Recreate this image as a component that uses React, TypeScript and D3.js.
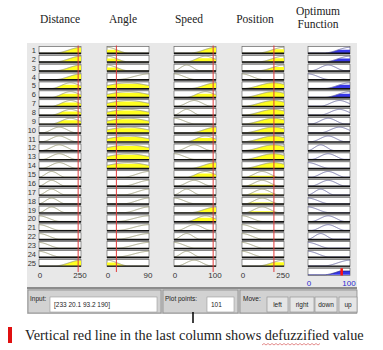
import React from 'react';
import * as d3 from 'd3';

// inputs of the fuzzy system
const inputNames = ['Distance', 'Angle', 'Speed', 'Position'];
const inputValues = [233, 20.1, 93.2, 190];
const inputMax = [250, 90, 100, 250];
const outputMax = 100;

// membership function used by each rule (25 rules)
const distanceMF = ['H', 'H', 'H', 'H', 'MH', 'MH', 'MH', 'MH', 'MH', 'M', 'M', 'M', 'M', 'M', 'ML', 'ML', 'ML', 'ML', 'ML', 'L', 'L', 'L', 'L', 'L', 'H'];
const angleMF = ['L', 'L', 'L', 'R', 'W', 'W', 'W', 'W', 'W', 'W', 'W', 'W', 'W', 'W', 'H', 'H', 'H', 'H', 'H', 'R', 'R', 'R', 'R', 'R', 'L'];
const speedMF = ['H', 'MH', 'ML', 'L', 'H', 'MH', 'M', 'ML', 'L', 'H', 'MH', 'M', 'L', 'H', 'MH', 'M', 'ML', 'L', 'H', 'MH', 'M', 'ML', 'L', 'ML', 'M'];
const positionMF = ['H', 'H', 'H', 'L', 'WH', 'WH', 'WH', 'WH', 'WH', 'WH', 'WH', 'WH', 'WH', 'WH', 'M', 'M', 'M', 'M', 'M', 'L', 'L', 'L', 'L', 'L', 'H'];
const optimumMF = ['H', 'H', 'M', 'L', 'H', 'H', 'MH', 'MH', 'M', 'MH', 'M', 'ML', 'M', 'L', 'M', 'M', 'ML', 'L', 'L', 'M', 'M', 'ML', 'L', 'L', 'H'];

// normalized shapes [a, b, c, d]
const shapes: Record<string, number[]> = {
  L: [-1, -1, 0, 0.5],
  ML: [0, 0.3, 0.3, 0.62],
  M: [0.08, 0.48, 0.48, 0.88],
  MH: [0.3, 0.75, 0.75, 1.2],
  H: [0.4, 1, 1, 2],
  R: [0.25, 1, 1, 2],
  W: [-0.5, 0.5, 0.5, 1.5],
  WH: [0.05, 0.75, 0.75, 1.45],
};

const ss = (t: number) => {
  const u = Math.max(0, Math.min(1, t));
  return u * u * (3 - 2 * u);
};
const mf = (s: string, x: number) => {
  const [a, b, c, d] = shapes[s];
  if (x < b) return ss((x - a) / (b - a));
  if (x <= c) return 1;
  return 1 - ss((x - c) / (d - c));
};

const xs = d3.range(101).map(i => i / 100);

const colX = [39, 107, 174, 242, 308];
const colW = 42;
const titleX = [60, 123, 189, 255, 318];
const rowTop = 46.5;
const pitch = 8.87;
const boxH = 7.2;

function Box({ x0, y0, shape, mu, fill, lineColor }: any) {
  const sx = d3.scaleLinear().domain([0, 1]).range([x0, x0 + colW]);
  const sy = d3.scaleLinear().domain([0, 1]).range([y0 + boxH - 0.8, y0 + 0.8]);
  const line = d3.line<number>().x(d => sx(d)).y(d => sy(mf(shape, d)));
  const area = d3.area<number>().x(d => sx(d)).y0(sy(0)).y1(d => sy(Math.min(mu, mf(shape, d))));
  return (
    <g>
      <rect x={x0} y={y0} width={colW} height={boxH} fill="#fff" stroke="#6a6a6a" strokeWidth={0.7} />
      {mu > 0.01 && <path d={area(xs) || ''} fill={fill} />}
      <path d={line(xs) || ''} fill="none" stroke={lineColor} strokeWidth={0.9} />
      <line x1={x0} x2={x0 + colW} y1={y0 + boxH - 0.5} y2={y0 + boxH - 0.5} stroke="#111" strokeWidth={1.4} />
    </g>
  );
}

export default function App() {
  const ruleSets = [distanceMF, angleMF, speedMF, positionMF];
  const norm = inputValues.map((v, i) => v / inputMax[i]);
  const mus = ruleSets.map((set, i) => set.map(s => mf(s, norm[i])));
  const strength = optimumMF.map((_, r) => Math.min(...mus.map(m => m[r])));
  const agg = xs.map(x => d3.max(optimumMF, (s, r) => Math.min(strength[r], mf(s, x))) || 0);
  const defuzz = d3.sum(xs, (x, i) => x * agg[i]) / (d3.sum(agg) || 1);

  const rowY = (r: number) => rowTop + r * pitch;
  const aggY = rowY(25);
  const ax = d3.scaleLinear().domain([0, 1]).range([colX[4], colX[4] + colW]);
  const ay = d3.scaleLinear().domain([0, 1]).range([aggY + boxH - 0.8, aggY + 0.8]);
  const aggArea = d3.area<number>().x(d => ax(d)).y0(ay(0)).y1((d, i) => ay(agg[i]));
  const aggLine = d3.line<number>().x(d => ax(d)).y((d, i) => ay(agg[i]));

  return (
    <svg width={383} height={350} style={{ position: 'absolute', left: 0, top: 0 }}>
      <rect x={0} y={0} width={383} height={350} fill="#fff" />
      {/* panel */}
      <rect x={27} y={43} width={330} height={244} fill="#e8e8e8" />
      {/* titles */}
      {inputNames.map((n, i) => (
        <text key={n} x={titleX[i]} y={23} textAnchor="middle" fontFamily="Liberation Serif, serif" fontSize={11.5} fill="#222">{n}</text>
      ))}
      <text x={titleX[4]} y={15} textAnchor="middle" fontFamily="Liberation Serif, serif" fontSize={11.5} fill="#222">Optimum</text>
      <text x={titleX[4]} y={28} textAnchor="middle" fontFamily="Liberation Serif, serif" fontSize={11.5} fill="#222">Function</text>

      {/* column backdrops */}
      {colX.map((x, c) => (
        <rect key={c} x={x} y={rowTop} width={colW} height={(c === 4 ? 26 : 25) * pitch - (pitch - boxH)} fill="#a9a9a9" />
      ))}

      {/* rule rows */}
      {d3.range(25).map(r => (
        <g key={r}>
          <text x={36} y={rowY(r) + boxH - 0.8} textAnchor="end" fontFamily="Arial, Liberation Sans, sans-serif" fontSize={7.5} fill="#333">{r + 1}</text>
          {ruleSets.map((set, i) => (
            <Box key={i} x0={colX[i]} y0={rowY(r)} shape={set[r]} mu={mus[i][r]} fill="#ffff20" lineColor="#9c9c78" />
          ))}
          <Box x0={colX[4]} y0={rowY(r)} shape={optimumMF[r]} mu={strength[r]} fill="#3838e8" lineColor="#6c6ca0" />
        </g>
      ))}

      {/* aggregated output */}
      <rect x={colX[4]} y={aggY} width={colW} height={boxH} fill="#fff" stroke="#6a6a6a" strokeWidth={0.7} />
      <path d={aggArea(xs) || ''} fill="#3434e6" />
      <path d={aggLine(xs) || ''} fill="none" stroke="#202080" strokeWidth={0.8} />
      <line x1={ax(defuzz)} x2={ax(defuzz)} y1={aggY} y2={aggY + boxH} stroke="#ff1010" strokeWidth={2.5} />

      {/* input red lines */}
      {norm.map((v, i) => {
        const x = d3.scaleLinear().domain([0, 1]).range([colX[i], colX[i] + colW])(v);
        return <line key={i} x1={x} x2={x} y1={rowTop - 1} y2={272} stroke="#e23a3a" strokeWidth={1} />;
      })}

      {/* axis labels */}
      {inputMax.map((m, i) => (
        <g key={i} fontFamily="Arial, Liberation Sans, sans-serif" fontSize={8} fill="#333" textAnchor="middle">
          <text x={colX[i] + 1} y={278}>0</text>
          <text x={colX[i] + colW - 1} y={278}>{m}</text>
        </g>
      ))}
      <g fontFamily="Arial, Liberation Sans, sans-serif" fontSize={8} fill="#2a2ad0" textAnchor="middle">
        <text x={colX[4] + 1} y={286}>0</text>
        <text x={colX[4] + colW - 1} y={286}>{outputMax}</text>
      </g>

      {/* control strip */}
      <rect x={27} y={287} width={330} height={2} fill="#8c8c8c" />
      <rect x={27} y={289} width={330} height={25} fill="#c8c8c8" />
      <rect x={28} y={290} width={133} height={23} fill="#d2d2d2" stroke="#8a8a8a" strokeWidth={0.8} />
      <rect x={163} y={290} width={75} height={23} fill="#d2d2d2" stroke="#8a8a8a" strokeWidth={0.8} />
      <rect x={240} y={290} width={117} height={23} fill="#d2d2d2" stroke="#8a8a8a" strokeWidth={0.8} />
      <g fontFamily="Arial, Liberation Sans, sans-serif" fontSize={6.5} fill="#222">
        <text x={30} y={301}>Input:</text>
        <rect x={50} y={297} width={107} height={15} fill="#fff" stroke="#999" strokeWidth={0.6} />
        <text x={54} y={307}>[233 20.1 93.2 190]</text>
        <text x={165} y={301}>Plot points:</text>
        <rect x={207} y={297} width={27} height={15} fill="#fff" stroke="#999" strokeWidth={0.6} />
        <text x={211} y={307}>101</text>
        <text x={243} y={301}>Move:</text>
        {[['left', 267, 21], ['right', 290, 24], ['down', 315, 22], ['up', 339, 18]].map(([t, x, w]) => (
          <g key={t as string}>
            <rect x={x as number} y={297} width={w as number} height={15} fill="#e6e6e6" stroke="#8a8a8a" strokeWidth={0.6} />
            <text x={(x as number) + (w as number) / 2} y={307} textAnchor="middle">{t}</text>
          </g>
        ))}
      </g>

      {/* pointer */}
      <line x1={193} x2={193} y1={312} y2={323} stroke="#000" strokeWidth={1.5} />

      {/* caption */}
      <rect x={8} y={327} width={4} height={16} fill="#e01010" />
      <text x={25} y={340} fontFamily="Liberation Serif, Times New Roman, serif" fontSize={14.3} fill="#222">Vertical red line in the last column shows defuzzified value</text>
      <path d={d3.range(0, 30).map(i => `${i === 0 ? 'M' : 'L'}${262 + i * 2},${i % 2 ? 343.5 : 345}`).join('')} fill="none" stroke="#d04040" strokeWidth={0.6} />
    </svg>
  );
}
